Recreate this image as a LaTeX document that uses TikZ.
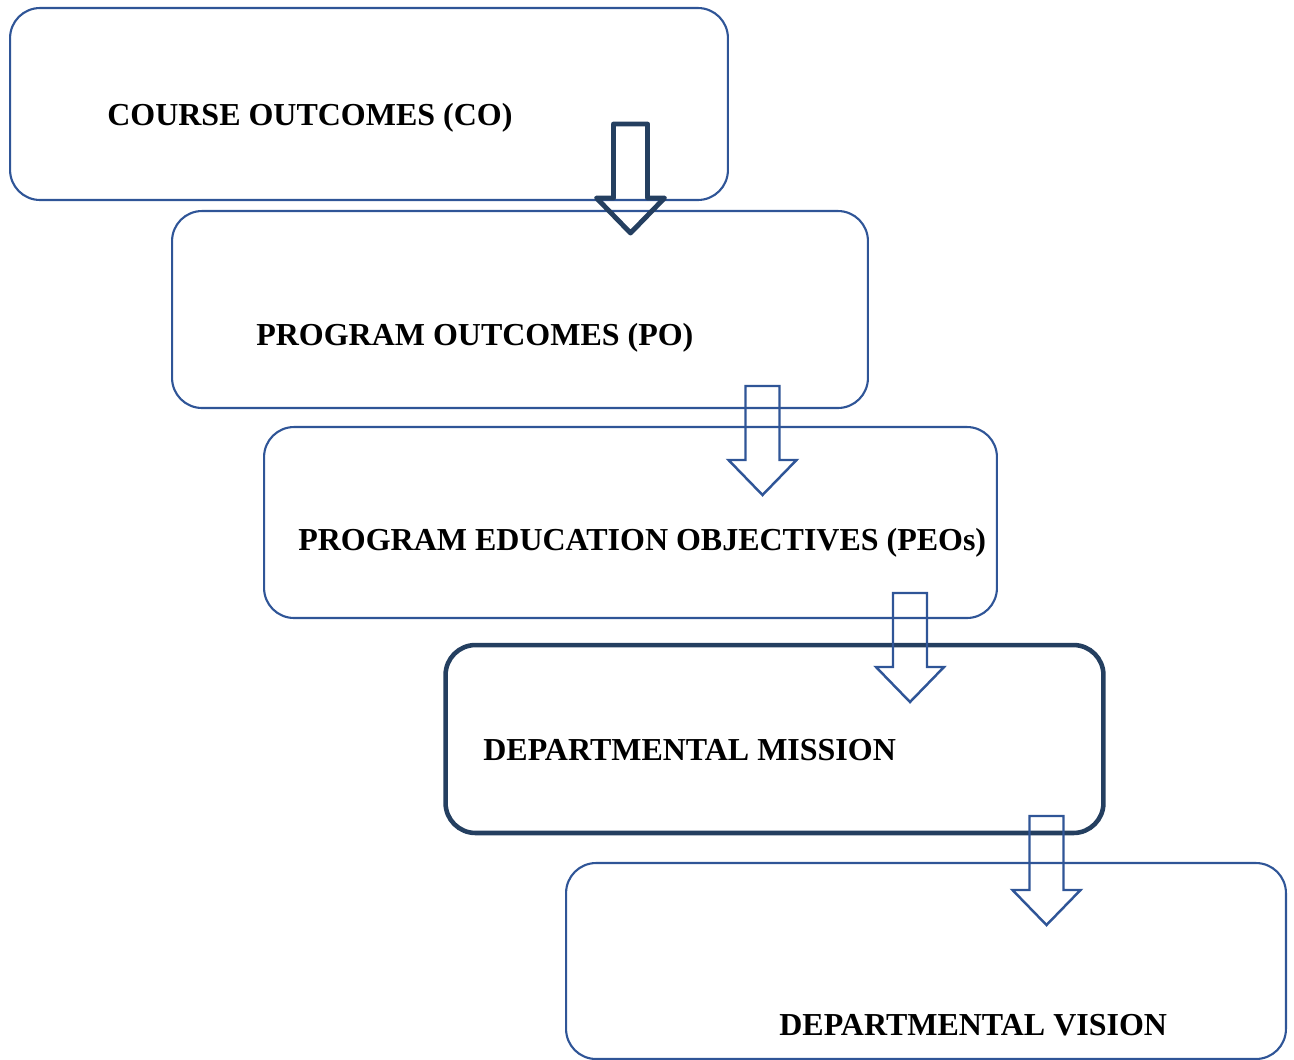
\documentclass[tikz,border=0pt]{standalone}
\usepackage{fontspec}
\setmainfont{Liberation Serif}
\usepackage{xcolor}
\usepackage{tikz}
\definecolor{boxblue}{HTML}{2F5597}
\definecolor{navy}{HTML}{243F60}
\tikzset{
  box/.style={draw=boxblue, line width=1.2pt, rounded corners=0.6cm, inner sep=0pt},
  keybox/.style={draw=navy, line width=2.6pt, rounded corners=0.6cm, inner sep=0pt},
  lbl/.style={anchor=base west, inner sep=0pt, font=\fontsize{18.2}{21}\selectfont\bfseries},
  arr/.style={draw=boxblue, line width=1.4pt, line join=miter},
  darr/.style={draw=navy, line width=2.8pt, line join=round}
}
% block arrow: style, centre x, top y (pixel units)
\newcommand{\flowarrow}[3]{%
  \draw[#1] (#2,#3) ++(-17,0) -- ++(0,74) -- ++(-17,0) -- ++(34,35)
    -- ++(34,-35) -- ++(-17,0) -- ++(0,-74) -- cycle;}

\begin{document}
\begin{tikzpicture}[x=0.02cm, y=-0.02cm]
  \useasboundingbox (0,0) rectangle (1294,1059);

  % boxes
  \node[box, minimum width=14.36cm, minimum height=3.84cm] (co) at (369,104) {};
  \node[box, minimum width=13.92cm, minimum height=3.94cm] (po) at (520,309.5) {};
  \node[box, minimum width=14.66cm, minimum height=3.82cm] (peo) at (630.5,522.5) {};
  \node[keybox, minimum width=13.16cm, minimum height=3.76cm] (mission) at (774.5,739) {};
  \node[box, minimum width=14.4cm, minimum height=3.92cm] (vision) at (926,961) {};

  % labels
  \node[lbl] (colbl) at (107,125) {COURSE OUTCOMES (CO)};
  \node[lbl] (polbl) at (256,345) {PROGRAM OUTCOMES (PO)};
  \node[lbl] (peolbl) at (298,550) {PROGRAM EDUCATION OBJECTIVES (PEOs)};
  \node[lbl] (missionlbl) at (483,760) {DEPARTMENTAL MISSION};
  \node[lbl] (visionlbl) at (779,1035) {DEPARTMENTAL VISION};

  % arrows
  \flowarrow{darr}{630.5}{124}
  \flowarrow{arr}{762.5}{386}
  \flowarrow{arr}{910}{593}
  \flowarrow{arr}{1046.5}{816}
\end{tikzpicture}
\end{document}
